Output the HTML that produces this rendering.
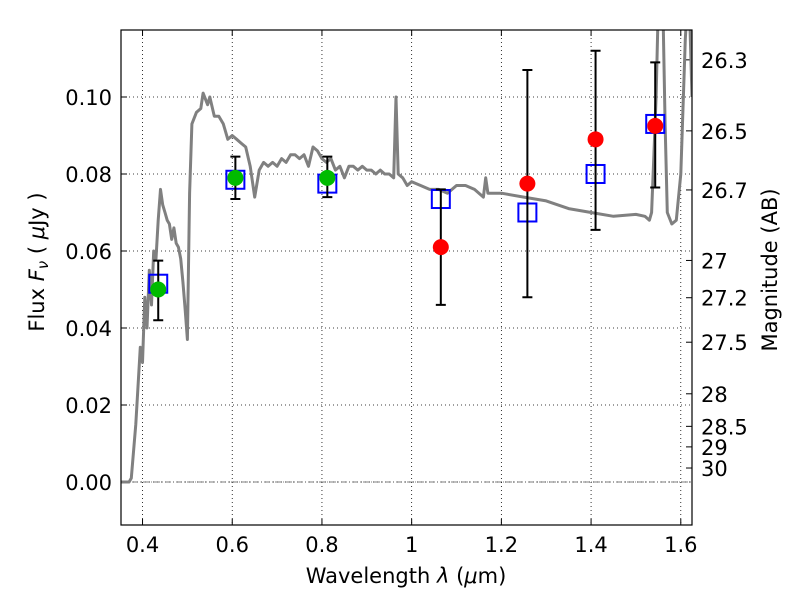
<!DOCTYPE html>
<html><head><meta charset="utf-8"><style>
body{margin:0;background:#fff;}
svg text{font-family:"DejaVu Sans","Liberation Sans",sans-serif;}
</style></head><body>
<svg id="chart" width="800" height="600" xmlns="http://www.w3.org/2000/svg"></svg>
<script>
const sedX=[0.35,0.37,0.375,0.385,0.395,0.40,0.405,0.41,0.415,0.42,0.425,0.43,0.435,0.44,0.445,0.45,0.455,0.46,0.465,0.47,0.475,0.48,0.485,0.49,0.495,0.50,0.505,0.51,0.52,0.53,0.535,0.545,0.55,0.56,0.57,0.58,0.59,0.60,0.61,0.62,0.63,0.64,0.65,0.66,0.67,0.68,0.69,0.70,0.71,0.72,0.73,0.74,0.75,0.76,0.77,0.78,0.79,0.80,0.81,0.82,0.83,0.84,0.85,0.86,0.87,0.88,0.89,0.90,0.91,0.92,0.93,0.94,0.95,0.96,0.965,0.97,0.98,0.99,1.00,1.02,1.04,1.06,1.08,1.10,1.12,1.14,1.16,1.165,1.17,1.20,1.25,1.30,1.35,1.40,1.45,1.50,1.52,1.53,1.535,1.54,1.545,1.55,1.56,1.565,1.57,1.58,1.59,1.60,1.61,1.615,1.62,1.625];
const sedY=[0,0,0.001,0.015,0.035,0.031,0.048,0.040,0.055,0.046,0.060,0.058,0.068,0.076,0.072,0.070,0.068,0.067,0.063,0.066,0.062,0.061,0.058,0.052,0.045,0.037,0.075,0.093,0.096,0.097,0.101,0.098,0.100,0.095,0.095,0.093,0.089,0.090,0.089,0.088,0.087,0.082,0.074,0.081,0.083,0.082,0.083,0.082,0.084,0.083,0.085,0.085,0.084,0.085,0.082,0.087,0.086,0.084,0.083,0.084,0.081,0.082,0.079,0.082,0.082,0.081,0.082,0.081,0.081,0.080,0.081,0.080,0.080,0.079,0.100,0.080,0.079,0.077,0.078,0.077,0.076,0.076,0.075,0.077,0.077,0.076,0.074,0.079,0.075,0.075,0.074,0.073,0.071,0.070,0.069,0.0695,0.069,0.068,0.070,0.085,0.100,0.125,0.125,0.093,0.070,0.067,0.068,0.080,0.115,0.125,0.12,0.10];
const obsX=[0.435,0.607,0.812,1.065,1.258,1.41,1.543];
const obsY=[0.050,0.079,0.079,0.061,0.0775,0.089,0.0925];
const errLo=[0.042,0.0735,0.074,0.046,0.048,0.0655,0.0765];
const errHi=[0.0575,0.0845,0.0845,0.076,0.107,0.112,0.109];
const obsColor=["#00bb00","#00bb00","#00bb00","red","red","red","red"];
const modelY=[0.0515,0.0785,0.0775,0.0735,0.070,0.080,0.093];
const xTicks=[0.4,0.6,0.8,1,1.2,1.4,1.6];
const xTickLabels=["0.4","0.6","0.8","1","1.2","1.4","1.6"];
const yTicks=[0,0.02,0.04,0.06,0.08,0.10];
const yTickLabels=["0.00","0.02","0.04","0.06","0.08","0.10"];
const magTicks=[26.3,26.5,26.7,27,27.2,27.5,28,28.5,29,30];

const L=121,R=692,T=30,B=525,xmin=0.352,xmax=1.625,ymin=-0.01117,ymax=0.1174;
const X=v=>L+(v-xmin)/(xmax-xmin)*(R-L);
const Y=v=>B-(v-ymin)/(ymax-ymin)*(B-T);
const svg=document.getElementById('chart');
const NS="http://www.w3.org/2000/svg";
function mk(tag,attrs,parent){const e=document.createElementNS(NS,tag);for(const k in attrs)e.setAttribute(k,attrs[k]);(parent||svg).appendChild(e);return e;}
const defs=mk('defs',{});const cp=mk('clipPath',{id:'clip'},defs);mk('rect',{x:L,y:T,width:R-L,height:B-T},cp);
const FS=21;
xTicks.forEach((v,i)=>{const g=mk('line',{x1:X(v),x2:X(v),y1:T,y2:B,stroke:'#000','stroke-width':0.8,'stroke-dasharray':'1,3'});

const t=mk('text',{x:X(v),y:B+27,'font-size':FS,'text-anchor':'middle'});t.textContent=xTickLabels[i];

mk('line',{x1:X(v),x2:X(v),y1:B,y2:B-6,stroke:'#000'});mk('line',{x1:X(v),x2:X(v),y1:T,y2:T+6,stroke:'#000'});});
yTicks.forEach((v,i)=>{const g=mk('line',{x1:L,x2:R,y1:Y(v),y2:Y(v),stroke:'#000','stroke-width':0.8,'stroke-dasharray':'1,3'});

const t=mk('text',{x:L-9,y:Y(v)+8,'font-size':FS,'text-anchor':'end'});t.textContent=yTickLabels[i];

mk('line',{x1:L,x2:L+6,y1:Y(v),y2:Y(v),stroke:'#000'});});
const z=mk('line',{x1:L,x2:R,y1:Y(0),y2:Y(0),stroke:'#555','stroke-width':0.8,'stroke-dasharray':'6,2,1,2'});

magTicks.forEach(m=>{const f=Math.pow(10,(23.9-m)/2.5);const y=Y(f);
mk('line',{x1:R,x2:R-6,y1:y,y2:y,stroke:'#000'});
const t=mk('text',{x:R+9,y:y+8,'font-size':FS});t.textContent=String(m);
});

const g=mk('g',{'clip-path':'url(#clip)'});
const p=mk('path',{d:sedX.map((v,i)=>(i?'L':'M')+X(v).toFixed(1)+','+Y(sedY[i]).toFixed(1)).join(''),fill:'none',stroke:'#808080','stroke-width':3,'stroke-linejoin':'round'},g);


obsX.forEach((v,i)=>{const x=X(v);
const sq=mk('rect',{x:x-9,y:Y(modelY[i])-9,width:18,height:18,fill:'none',stroke:'#0000ff','stroke-width':2});

const e=mk('path',{d:`M${x},${Y(errLo[i])}V${Y(errHi[i])}M${x-5},${Y(errLo[i])}h10M${x-5},${Y(errHi[i])}h10`,stroke:'#000','stroke-width':2,fill:'none'});

const c=mk('circle',{cx:x,cy:Y(obsY[i]),r:8,fill:obsColor[i]});
});

const fr=mk('rect',{x:L,y:T,width:R-L,height:B-T,fill:'none',stroke:'#000','stroke-width':1.2});


let t=mk('text',{x:406,y:583,'font-size':FS,'text-anchor':'middle'});t.innerHTML='Wavelength  <tspan font-style="italic">λ</tspan> (<tspan font-style="italic">μ</tspan>m)';

t=mk('text',{x:0,y:0,'font-size':FS,'text-anchor':'middle',transform:'translate(44,262) rotate(-90)'});t.innerHTML='Flux  <tspan font-style="italic">F</tspan><tspan font-style="italic" font-size="15" dy="4">ν</tspan><tspan dy="-4">  ( <tspan font-style="italic">μ</tspan>Jy )</tspan>';

t=mk('text',{x:0,y:0,'font-size':FS,'text-anchor':'middle',transform:'translate(777,270) rotate(-90)'});t.textContent='Magnitude (AB)';

</script>
</body></html>
